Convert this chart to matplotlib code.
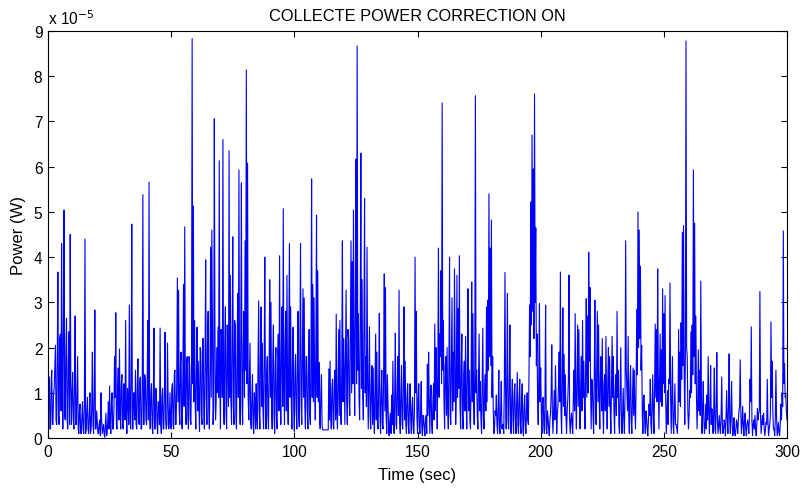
import numpy as np
import matplotlib
matplotlib.use("Agg")
import matplotlib.pyplot as plt

plt.rcParams["font.family"] = ["Liberation Sans", "DejaVu Sans"]

# power at t = 0, 0.5, 1.0 ... 300 s, in units of 1e-5 W (one row = 10 s)
power_e5 = [
    0.3, 1.35, 0.2, 1.5, 0.3, 1.1, 2.05, 0.3, 3.67, 0.3, 2.3, 4.3, 0.2, 5.04, 0.4, 2.65, 0.2, 2.35, 4.5, 0.3,
    1.45, 0.2, 2.7, 0.3, 1.8, 0.1, 0.75, 0.1, 0.8, 0.1, 4.4, 0.2, 0.9, 0.1, 1.0, 0.2, 1.9, 0.1, 2.83, 0.2,
    0.35, 0.1, 0.4, 1.0, 0.1, 0.3, 0.02, 0.55, 0.1, 0.8, 1.15, 0.1, 1.0, 0.2, 1.8, 2.77, 0.2, 1.55, 1.97, 0.2,
    1.4, 0.2, 1.0, 2.6, 0.1, 0.85, 2.94, 0.2, 4.73, 0.2, 1.0, 1.5, 0.2, 1.75, 0.3, 1.35, 0.2, 5.38, 0.3, 1.3,
    0.3, 2.6, 5.66, 0.2, 1.2, 0.1, 2.43, 0.2, 1.0, 0.1, 0.8, 2.43, 0.1, 1.1, 0.2, 2.34, 0.2, 2.1, 0.2, 1.0,
    0.2, 1.2, 0.2, 1.5, 0.3, 3.54, 3.27, 0.3, 1.9, 0.2, 3.4, 4.67, 0.3, 1.8, 0.2, 1.6, 0.3, 8.83, 5.13, 2.6,
    0.2, 2.45, 1.7, 0.15, 1.9, 0.3, 2.2, 0.2, 3.94, 0.3, 2.8, 0.2, 4.22, 4.6, 0.3, 7.06, 0.4, 2.0, 2.45, 6.13,
    0.2, 2.2, 6.6, 0.3, 2.9, 0.2, 1.9, 6.35, 3.6, 0.3, 4.45, 0.3, 2.5, 0.2, 3.2, 5.93, 0.3, 5.64, 0.3, 2.8,
    4.36, 8.14, 6.08, 0.4, 2.1, 0.2, 1.4, 0.1, 0.8, 1.2, 0.2, 3.03, 0.2, 2.9, 2.1, 0.2, 4.0, 0.2, 1.8, 0.2,
    3.5, 3.0, 0.2, 2.5, 0.1, 2.0, 0.2, 2.3, 4.03, 0.3, 2.9, 5.07, 0.3, 2.8, 3.6, 0.3, 4.3, 2.9, 0.2, 2.45,
    0.15, 1.85, 0.2, 2.8, 0.25, 4.3, 0.3, 3.3, 3.1, 0.2, 1.8, 0.2, 2.4, 0.3, 5.73, 3.4, 3.1, 0.4, 4.93, 3.7,
    1.67, 0.2, 1.4, 0.18, 0.18, 0.18, 0.18, 0.18, 1.53, 1.7, 0.2, 1.3, 0.2, 1.5, 2.74, 0.2, 2.4, 2.6, 0.3, 4.36,
    2.2, 0.3, 3.27, 0.3, 2.2, 0.5, 4.36, 3.9, 5.04, 0.5, 6.17, 8.67, 2.75, 0.4, 6.3, 3.5, 0.4, 5.3, 1.8, 4.22,
    0.2, 2.46, 0.2, 1.6, 1.55, 0.1, 2.3, 1.9, 0.2, 2.76, 0.1, 1.5, 0.2, 3.63, 3.33, 0.1, 0.8, 0.05, 0.55, 0.95,
    1.7, 0.1, 2.32, 0.2, 1.8, 3.27, 0.1, 1.6, 0.2, 2.9, 1.7, 0.1, 1.2, 0.1, 1.2, 0.1, 0.9, 0.1, 4.0, 2.8,
    0.1, 1.2, 0.1, 1.25, 0.05, 0.45, 0.05, 0.5, 1.63, 1.9, 0.1, 1.17, 0.1, 1.2, 2.52, 2.0, 0.2, 4.2, 2.3, 3.7,
    7.41, 2.6, 0.2, 1.8, 2.0, 0.2, 4.0, 0.3, 3.1, 1.9, 3.74, 0.3, 3.6, 2.86, 4.03, 0.2, 2.3, 0.2, 1.7, 2.25,
    0.2, 3.3, 1.5, 0.2, 3.45, 2.75, 0.3, 7.57, 1.5, 0.2, 2.3, 1.25, 0.1, 2.43, 0.2, 1.4, 2.9, 3.05, 5.4, 4.2,
    4.82, 1.8, 0.1, 0.6, 0.95, 0.1, 1.5, 0.1, 1.25, 0.3, 0.1, 3.66, 0.2, 3.2, 0.2, 2.5, 0.1, 1.3, 0.1, 1.2,
    0.1, 1.45, 0.1, 1.3, 0.1, 1.2, 0.05, 0.95, 0.1, 1.0, 0.3, 2.94, 5.22, 6.7, 5.95, 7.61, 4.65, 2.3, 0.3, 2.97,
    1.55, 0.1, 0.9, 0.1, 2.94, 0.1, 0.45, 0.05, 0.55, 2.06, 0.1, 1.05, 1.6, 0.1, 0.7, 1.9, 3.67, 0.1, 2.88, 1.85,
    1.4, 0.1, 0.85, 3.6, 0.1, 0.55, 0.1, 1.5, 2.75, 0.2, 2.5, 2.4, 0.2, 1.8, 2.6, 1.7, 0.2, 3.08, 2.7, 4.11,
    3.33, 0.2, 1.2, 0.1, 3.05, 0.3, 2.8, 2.5, 0.2, 1.8, 2.2, 0.1, 1.4, 2.25, 0.2, 2.0, 1.8, 0.1, 2.25, 1.8,
    0.1, 1.4, 2.8, 1.5, 0.1, 2.0, 0.1, 1.1, 0.1, 4.36, 1.05, 2.25, 0.1, 1.6, 0.1, 1.55, 1.5, 0.2, 2.85, 5.0,
    4.6, 3.8, 2.05, 0.1, 0.95, 0.1, 0.45, 0.05, 0.75, 1.3, 0.1, 1.4, 0.1, 2.52, 2.4, 3.74, 0.2, 2.3, 1.95, 3.3,
    2.75, 3.15, 0.1, 1.05, 1.3, 3.43, 0.1, 1.8, 0.1, 1.2, 0.3, 0.1, 2.4, 1.9, 2.55, 4.55, 4.7, 0.3, 8.78, 1.8,
    0.2, 1.05, 2.35, 2.5, 5.93, 4.75, 2.7, 0.2, 1.95, 1.5, 3.47, 0.1, 1.25, 0.1, 0.75, 0.95, 1.8, 0.1, 1.6, 0.65,
    0.1, 1.55, 0.1, 1.89, 0.1, 0.5, 0.1, 1.35, 0.1, 0.4, 0.05, 1.05, 0.1, 1.86, 0.1, 1.25, 0.05, 0.45, 0.05, 0.4,
    0.1, 0.6, 1.73, 0.1, 0.7, 0.05, 0.55, 0.05, 0.4, 0.1, 1.3, 2.46, 0.05, 0.4, 0.5, 0.05, 0.65, 0.55, 3.24, 0.1,
    0.5, 0.55, 0.05, 0.35, 1.3, 0.05, 0.3, 2.57, 1.7, 0.2, 0.05, 1.5, 0.05, 0.35, 0.05, 0.75, 1.0, 4.58, 1.65, 0.95,
    0.4,
]

# dense band in between, at t = 0.25, 0.75 ... 299.75 s (same units, one row = 10 s)
power_mid_e5 = [
    0.9, 0.2, 1.2, 0.3, 1.0, 1.6, 0.4, 1.8, 0.5, 2.2, 0.6, 1.9, 2.4, 0.5, 2.0, 0.4, 1.7, 0.3, 1.2, 1.0,
    0.4, 1.2, 0.3, 1.0, 0.2, 0.6, 0.1, 0.5, 0.2, 0.7, 0.1, 0.6, 0.2, 0.5, 0.1, 0.7, 0.3, 0.9, 0.2, 0.6,
    0.1, 0.3, 0.05, 0.4, 0.2, 0.1, 0.3, 0.05, 0.4, 0.2, 0.3, 0.8, 0.2, 0.6, 0.9, 0.3, 1.1, 0.4, 0.6, 1.2,
    0.3, 1.2, 0.4, 0.5, 1.1, 0.3, 0.6, 1.3, 0.2, 1.0, 0.4, 0.3, 1.2, 0.4, 1.3, 0.2, 1.1, 0.3, 1.4, 0.4,
    1.3, 0.4, 0.5, 1.0, 0.3, 0.9, 0.2, 1.1, 0.3, 0.8, 0.3, 0.3, 0.9, 0.2, 1.0, 0.4, 0.3, 0.8, 0.4, 0.3,
    1.1, 0.3, 1.4, 0.3, 1.3, 0.8, 0.6, 1.6, 0.3, 1.5, 0.7, 0.9, 1.7, 0.5, 1.8, 0.4, 1.6, 1.2, 0.8, 0.7,
    1.5, 0.6, 0.7, 2.0, 0.5, 2.2, 0.4, 1.8, 0.9, 2.1, 0.6, 1.5, 0.9, 2.4, 0.7, 2.5, 0.8, 1.0, 0.9, 1.2,
    2.4, 0.9, 0.8, 2.1, 0.6, 2.5, 0.7, 0.9, 0.8, 2.2, 0.7, 2.6, 0.5, 2.0, 0.9, 1.0, 2.3, 0.8, 2.0, 0.9,
    1.5, 1.2, 0.9, 1.3, 0.4, 0.9, 0.3, 1.0, 0.2, 0.4, 1.5, 0.6, 1.8, 0.7, 0.6, 1.7, 0.8, 1.4, 0.5, 1.6,
    0.9, 0.7, 1.8, 0.5, 1.6, 0.4, 1.9, 0.6, 1.2, 2.0, 0.7, 1.1, 2.1, 0.6, 1.0, 2.2, 0.9, 0.8, 1.7, 0.6,
    1.5, 0.6, 1.7, 0.5, 2.0, 0.8, 1.9, 0.9, 0.7, 1.8, 0.6, 1.6, 0.5, 2.0, 0.9, 0.8, 1.2, 2.2, 0.9, 0.8,
    0.4, 1.0, 0.3, 0.18, 0.18, 0.18, 0.18, 0.18, 0.4, 0.5, 1.1, 0.3, 1.3, 0.4, 0.6, 1.4, 0.5, 0.7, 1.6, 0.8,
    1.5, 1.8, 0.9, 2.4, 0.8, 2.6, 1.0, 1.2, 2.0, 2.8, 1.2, 1.5, 0.9, 2.7, 1.1, 1.0, 2.5, 1.0, 0.7, 1.2,
    1.4, 0.5, 1.2, 0.3, 0.4, 1.3, 0.4, 0.3, 1.2, 0.5, 1.0, 0.3, 1.5, 0.6, 0.5, 1.4, 0.2, 0.4, 0.1, 0.3,
    0.4, 1.0, 0.3, 1.1, 0.5, 0.4, 1.0, 0.3, 1.2, 0.4, 0.3, 0.9, 0.3, 0.8, 0.4, 0.7, 0.2, 0.6, 1.0, 0.5,
    0.9, 0.2, 0.6, 0.2, 0.5, 0.2, 0.4, 0.1, 0.5, 0.8, 0.9, 0.3, 0.8, 0.4, 0.6, 1.2, 1.6, 0.9, 1.8, 1.2,
    1.5, 0.8, 1.6, 0.5, 0.7, 1.7, 0.5, 1.8, 0.6, 0.8, 1.9, 1.0, 0.9, 1.1, 0.7, 1.6, 0.5, 1.4, 0.6, 0.8,
    1.5, 0.6, 0.4, 1.4, 0.8, 0.9, 1.6, 1.0, 0.5, 1.3, 0.6, 0.4, 1.2, 0.5, 1.1, 0.6, 0.8, 1.5, 1.8, 1.6,
    0.9, 0.6, 0.2, 0.5, 0.3, 0.7, 0.2, 0.6, 0.2, 0.3, 1.2, 0.9, 1.3, 0.4, 1.1, 0.5, 0.9, 0.4, 1.0, 0.4,
    0.8, 0.3, 0.9, 0.3, 0.8, 0.2, 0.7, 0.3, 0.6, 0.4, 1.4, 1.8, 2.5, 2.8, 2.2, 3.0, 1.6, 0.9, 1.5, 0.8,
    0.6, 0.8, 0.3, 0.9, 0.2, 0.6, 0.2, 0.4, 1.0, 0.5, 0.6, 0.4, 0.9, 0.5, 1.2, 0.8, 0.6, 1.3, 0.7, 0.5,
    0.5, 0.6, 1.3, 0.4, 0.4, 0.3, 0.9, 0.6, 0.8, 1.4, 0.7, 0.9, 1.2, 0.6, 0.9, 0.8, 1.5, 0.9, 1.0, 1.7,
    1.2, 1.3, 0.5, 1.4, 0.9, 1.5, 0.8, 0.9, 1.4, 0.6, 0.7, 1.2, 0.6, 0.8, 1.3, 0.7, 0.6, 1.2, 0.9, 0.6,
    1.0, 0.5, 0.9, 0.3, 1.1, 0.6, 0.5, 0.4, 1.0, 1.5, 0.6, 0.5, 1.2, 0.4, 0.8, 0.5, 0.6, 1.2, 1.4, 2.0,
    2.2, 1.5, 0.5, 0.9, 0.3, 0.6, 0.2, 0.4, 0.5, 0.3, 0.7, 0.5, 1.1, 0.9, 0.8, 1.4, 1.3, 0.8, 0.7, 1.2,
    1.0, 0.9, 0.6, 0.3, 1.2, 0.9, 0.9, 0.3, 0.7, 0.3, 0.2, 0.5, 0.8, 0.7, 1.3, 1.6, 1.5, 1.9, 2.0, 0.6,
    0.5, 0.9, 1.0, 1.4, 1.8, 1.2, 0.9, 0.8, 0.6, 0.5, 1.0, 0.6, 0.4, 0.3, 0.2, 0.4, 0.6, 0.7, 0.3, 0.4,
    0.6, 0.2, 0.7, 0.4, 0.3, 0.2, 0.5, 0.3, 0.2, 0.3, 0.5, 0.4, 0.7, 0.4, 0.6, 0.3, 0.2, 0.1, 0.2, 0.3,
    0.4, 0.7, 0.6, 0.3, 0.3, 0.4, 0.2, 0.3, 0.3, 0.5, 0.8, 0.4, 0.3, 0.2, 0.2, 0.3, 0.4, 0.6, 0.5, 0.3,
    0.3, 0.2, 0.2, 0.3, 0.4, 0.2, 0.5, 0.9, 0.6, 0.2, 0.4, 0.5, 0.2, 0.1, 0.3, 0.4, 0.7, 1.2, 0.9, 0.6,
]

xticks = [0, 50, 100, 150, 200, 250, 300]
yticks = [0, 1, 2, 3, 4, 5, 6, 7, 8, 9]

# merge both readings into one trace on a 0.25 s grid
time_s = np.arange(0, 300.01, 0.25)
power = np.empty(len(time_s))
power[0::2] = power_e5
power[1::2] = power_mid_e5

fig = plt.figure(figsize=(8.02, 4.89), dpi=100)
ax = fig.add_axes([0.0599, 0.1022, 0.9214, 0.8323])
ax.plot(time_s, power, color="#0000ff", linewidth=0.8)

ax.set_xlim(0, 300)
ax.set_ylim(0, 9)
ax.set_xticks(xticks)
ax.set_yticks(yticks)
ax.tick_params(direction="in", top=True, right=True, length=4, labelsize=11.2, width=0.8, pad=4)
for s in ax.spines.values():
    s.set_linewidth(0.8)

ax.set_title("COLLECTE POWER CORRECTION ON", fontsize=11.8, pad=8)
ax.set_xlabel("Time (sec)", fontsize=12, labelpad=6)
ax.set_ylabel("Power (W)", fontsize=12, labelpad=6)
fig.text(0.0599, 0.942, r"x 10$^{-5}$", fontsize=11.2, ha="left", va="bottom")

plt.savefig("out.png", dpi=100)
